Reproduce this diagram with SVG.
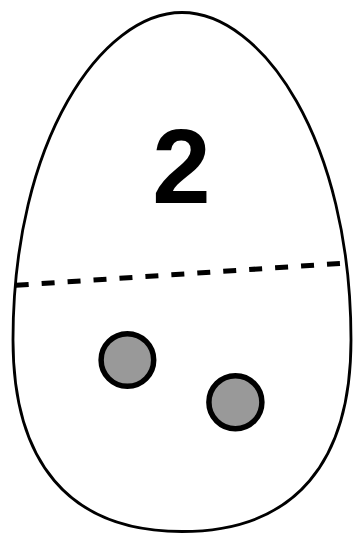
<svg xmlns="http://www.w3.org/2000/svg" width="354" height="533" viewBox="0 0 354 533">
  <style>
    .egg { fill: #ffffff; stroke: #000000; stroke-width: 2.8; }
    .cut { fill: none; stroke: #000000; stroke-width: 5; stroke-dasharray: 13 13; }
    .dot { fill: #999999; stroke: #000000; stroke-width: 5.5; }
    .num { font-family: "Liberation Sans", Arial, sans-serif; font-weight: bold; font-size: 105px; fill: #000000; }
  </style>
  <rect width="354" height="533" fill="#ffffff"/>
  <g id="egg">
    <path class="egg" d="M182,12.5 C102,12.5 13,140 13,340 C13,460 67,531.5 182,531.5 C297,531.5 351,460 351,340 C351,140 262,12.5 182,12.5 Z"/>
  </g>
  <g id="label">
    <text class="num" x="181.5" y="203" text-anchor="middle">2</text>
  </g>
  <g id="connectors">
    <line class="cut" x1="15.7" y1="285.3" x2="344" y2="263.2"/>
  </g>
  <g id="dot1">
    <circle class="dot" cx="127.4" cy="360" r="26.3"/>
  </g>
  <g id="dot2">
    <circle class="dot" cx="235.4" cy="402.2" r="26.5"/>
  </g>
</svg>
